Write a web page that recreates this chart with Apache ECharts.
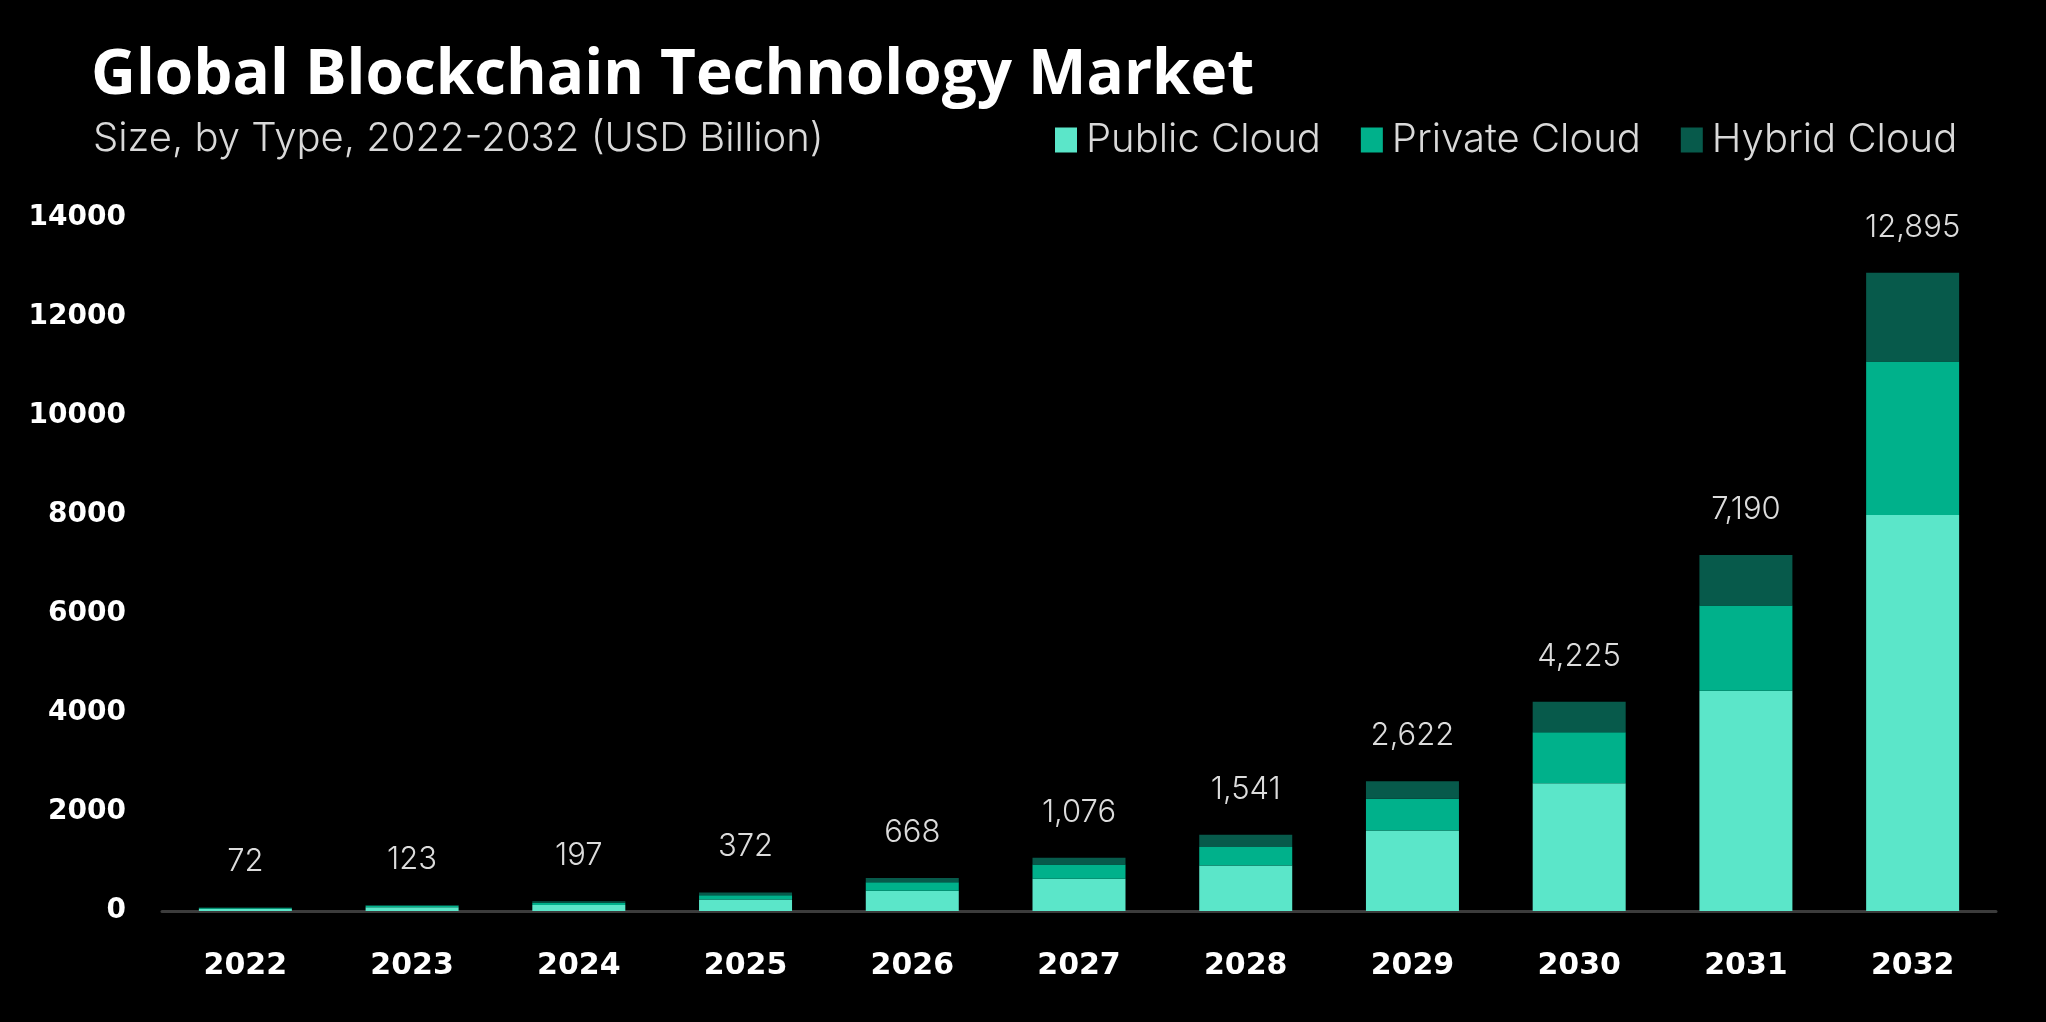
<!DOCTYPE html>
<html>
<head>
<meta charset="utf-8">
<title>Global Blockchain Technology Market</title>
<script src="https://cdn.jsdelivr.net/npm/echarts@6/dist/echarts.min.js"></script>
<style>
  html, body { margin: 0; padding: 0; background: #000; }
  #chart { width: 2046px; height: 1022px; }
</style>
</head>
<body>
<div id="chart"></div>
<script>
const years = ['2022', '2023', '2024', '2025', '2026', '2027', '2028', '2029', '2030', '2031', '2032']
const publicCloud = [45, 76, 122, 230, 410, 650, 918, 1626, 2580, 4450, 8000]
const privateCloud = [17, 29, 46, 88, 170, 290, 375, 644, 1030, 1720, 3100]
const hybridCloud = [10, 18, 29, 54, 88, 136, 248, 352, 615, 1020, 1795]
const totals = [72, 123, 197, 372, 668, 1076, 1541, 2622, 4225, 7190, 12895]

const colors = ['#5be6c9', '#00b18b', '#075a4b']

const chart = echarts.init(document.getElementById('chart'))

function barSeries (name, data, color) {
  return {
    name,
    type: 'bar',
    stack: 'total',
    barWidth: 93,
    data,
    itemStyle: { color }
  }
}

const series = [
  barSeries('Public Cloud', publicCloud, colors[0]),
  barSeries('Private Cloud', privateCloud, colors[1]),
  barSeries('Hybrid Cloud', hybridCloud, colors[2])
]
// totals sit above the top segment
series[2].label = {
  show: true,
  position: 'top',
  distance: 30,
  color: '#dcdcdc',
  fontFamily: 'Inter',
  fontWeight: 300,
  fontSize: 31,
  formatter: p => totals[p.dataIndex].toLocaleString('en-US')
}

const option = {
  backgroundColor: '#000',
  animation: false,
  title: [
    {
      text: 'Global Blockchain Technology Market',
      left: 86,
      top: 40,
      textStyle: { color: '#fff', fontFamily: 'Open Sans', fontWeight: 'bold', fontSize: 62 }
    },
    {
      text: 'Size, by Type, 2022-2032 (USD Billion)',
      left: 88,
      top: 114,
      textStyle: { color: '#d9d9d9', fontFamily: 'Inter', fontWeight: 300, fontSize: 40 }
    }
  ],
  legend: {
    left: 1050,
    top: 115,
    icon: 'rect',
    itemWidth: 22,
    itemHeight: 25,
    itemGap: 40,
    textStyle: { color: '#d9d9d9', fontFamily: 'Inter', fontWeight: 300, fontSize: 40, padding: [0, 0, 0, 4] },
    data: ['Public Cloud', 'Private Cloud', 'Hybrid Cloud']
  },
  grid: { left: 162, right: 50, top: 218, bottom: 111 },
  xAxis: {
    type: 'category',
    data: years,
    axisTick: { show: false },
    axisLine: { lineStyle: { color: '#3c3c3c', width: 3 } },
    axisLabel: { color: '#fff', fontFamily: 'DejaVu Sans', fontWeight: 'bold', fontSize: 30, margin: 40 }
  },
  yAxis: {
    type: 'value',
    min: 0,
    max: 14000,
    interval: 2000,
    splitLine: { show: false },
    axisLine: { show: false },
    axisLabel: {
      color: '#fff',
      fontFamily: 'DejaVu Sans',
      fontWeight: 'bold',
      fontSize: 28,
      margin: 36,
      formatter: v => String(v)
    }
  },
  series
}

chart.setOption(option)
</script>
</body>
</html>
